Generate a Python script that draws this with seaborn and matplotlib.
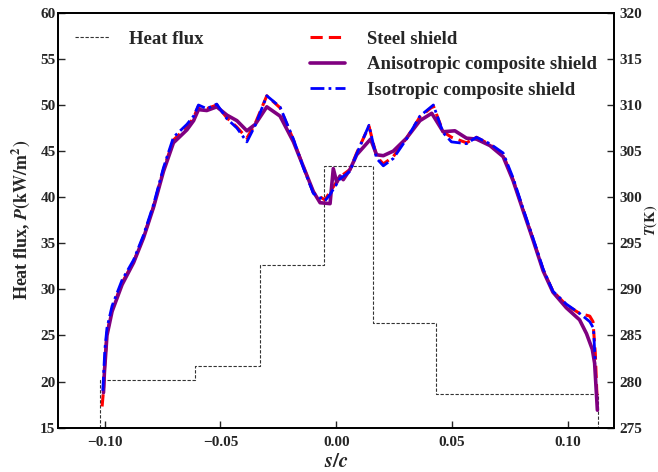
import numpy as np
import pandas as pd
import matplotlib
matplotlib.use("Agg")
import matplotlib.pyplot as plt
import seaborn as sns

# ---------------- data ----------------
flux_edges = [-0.1019, -0.1019, -0.0608, -0.0328, -0.0052, 0.0159, 0.0430, 0.1129, 0.1129]
flux_levels = [15.0, 20.2, 21.7, 32.6, 43.4, 26.4, 18.6, 18.6, 15.0]

s_steel = [-0.1011, -0.1005, -0.1001, -0.0990, -0.0968, -0.0925, -0.0875, -0.0832, -0.0789,
           -0.0746, -0.0703, -0.0645, -0.0616, -0.0595, -0.0559, -0.0516, -0.0472, -0.0429,
           -0.0386, -0.0350, -0.0300, -0.0243, -0.0185, -0.0142, -0.0099, -0.0049, -0.0027,
           0.0016, 0.0059, 0.0088, 0.0141, 0.0174, 0.0203, 0.0246, 0.0303, 0.0361, 0.0419,
           0.0461, 0.0497, 0.0562, 0.0605, 0.0663, 0.0720, 0.0763, 0.0807, 0.0850, 0.0893,
           0.0935, 0.0993, 0.1050, 0.1094, 0.1108, 0.1118, 0.1125]
T_steel = [277.3, 279.0, 281.3, 285.2, 287.8, 290.7, 293.0, 295.7, 299.0,
           303.0, 306.2, 307.6, 308.6, 309.9, 309.6, 310.0, 308.6, 307.6,
           306.4, 308.0, 311.0, 309.7, 306.2, 303.3, 300.5, 299.7, 300.6,
           302.2, 303.0, 304.8, 307.7, 304.4, 303.6, 304.4, 306.4, 308.7, 309.9,
           307.1, 306.5, 305.9, 306.5, 305.7, 304.6, 301.9, 298.6, 295.4, 292.1,
           289.8, 288.3, 287.4, 287.1, 286.5, 283.0, 278.5]

s_iso = [-0.1008, -0.1003, -0.0999, -0.0990, -0.0968, -0.0925, -0.0875, -0.0832, -0.0789,
         -0.0746, -0.0703, -0.0645, -0.0616, -0.0595, -0.0559, -0.0516, -0.0472, -0.0429,
         -0.0386, -0.0350, -0.0300, -0.0243, -0.0185, -0.0142, -0.0099, -0.0049, -0.0027,
         0.0016, 0.0059, 0.0088, 0.0141, 0.0174, 0.0203, 0.0246, 0.0303, 0.0361, 0.0419,
         0.0461, 0.0497, 0.0562, 0.0605, 0.0663, 0.0720, 0.0763, 0.0807, 0.0850, 0.0893,
         0.0935, 0.0993, 0.1050, 0.1094, 0.1110, 0.1118]
T_iso = [279.0, 281.5, 283.5, 285.8, 288.2, 291.0, 293.2, 295.9, 299.2,
         303.2, 306.5, 307.9, 308.8, 310.0, 309.6, 310.1, 308.5, 307.5,
         306.0, 307.8, 311.0, 309.8, 306.3, 303.2, 300.4, 299.6, 300.3,
         302.0, 302.8, 304.7, 307.8, 304.2, 303.4, 304.2, 306.3, 308.8, 310.0,
         307.0, 306.0, 305.8, 306.5, 305.8, 304.8, 302.1, 298.7, 295.5, 292.2,
         289.8, 288.4, 287.4, 286.5, 285.8, 282.0]

s_aniso = [-0.1005, -0.1001, -0.0990, -0.0968, -0.0925, -0.0875, -0.0832, -0.0789, -0.0746,
           -0.0703, -0.0645, -0.0616, -0.0595, -0.0559, -0.0516, -0.0472, -0.0429, -0.0386,
           -0.0350, -0.0300, -0.0243, -0.0185, -0.0142, -0.0099, -0.0070, -0.0027, -0.0013,
           0.0002, 0.0016, 0.0030, 0.0059, 0.0088, 0.0148, 0.0174, 0.0203, 0.0246, 0.0303,
           0.0361, 0.0412, 0.0461, 0.0512, 0.0562, 0.0605, 0.0663, 0.0720, 0.0763, 0.0807,
           0.0850, 0.0893, 0.0935, 0.0993, 0.1050, 0.1080, 0.1105, 0.1115, 0.1127]
T_aniso = [278.8, 281.0, 285.0, 287.6, 290.5, 292.9, 295.6, 298.9, 302.8,
           305.9, 307.3, 308.3, 309.5, 309.4, 309.8, 308.9, 308.3, 307.2,
           307.9, 309.8, 308.8, 306.0, 303.3, 300.6, 299.4, 299.3, 303.1,
           301.6, 302.3, 301.9, 303.0, 304.6, 306.3, 304.6, 304.5, 305.0, 306.4,
           308.3, 309.1, 307.1, 307.2, 306.4, 306.3, 305.6, 304.4, 301.8, 298.5,
           295.3, 292.0, 289.7, 288.0, 286.7, 285.2, 283.5, 282.0, 276.9]

# ---------------- style ----------------
sns.set_style("ticks")
plt.rcParams["font.family"] = ["Liberation Serif", "DejaVu Serif"]
plt.rcParams["mathtext.fontset"] = "stix"
plt.rcParams["font.weight"] = "bold"

fig = plt.figure(figsize=(6.58, 4.72), dpi=100)
ax = fig.add_axes([0.0886, 0.0939, 0.9336 - 0.0886, 0.9729 - 0.0939])
ax2 = ax.twinx()

flux_df = pd.DataFrame({"s": flux_edges, "P": flux_levels})
sns.lineplot(data=flux_df, x="s", y="P", ax=ax, estimator=None, sort=False,
             color="#333333", lw=0.8, linestyle=(0, (3, 1.5)), drawstyle="steps-post",
             label="Heat flux")

steel_df = pd.DataFrame({"s": s_steel, "T": T_steel})
aniso_df = pd.DataFrame({"s": s_aniso, "T": T_aniso})
iso_df = pd.DataFrame({"s": s_iso, "T": T_iso})

sns.lineplot(data=steel_df, x="s", y="T", ax=ax2, estimator=None, sort=False,
             color="#ff0000", lw=2.2, linestyle=(0, (4, 2)), label="Steel shield")
sns.lineplot(data=aniso_df, x="s", y="T", ax=ax2, estimator=None, sort=False,
             color="#800080", lw=2.6, linestyle="-", label="Anisotropic composite shield")
sns.lineplot(data=iso_df, x="s", y="T", ax=ax2, estimator=None, sort=False,
             color="#0000ff", lw=2.0, linestyle=(0, (5, 1.5, 1, 1.5)), label="Isotropic composite shield")

ax.set_xlim(-0.12, 0.12)
ax.set_ylim(15, 60)
ax2.set_ylim(275, 320)
ax.set_xticks([-0.10, -0.05, 0.00, 0.05, 0.10])
ax.set_xticklabels(["\u22120.10", "\u22120.05", "0.00", "0.05", "0.10"])
ax.set_yticks(np.arange(15, 61, 5))
ax2.set_yticks(np.arange(275, 321, 5))

for a in (ax, ax2):
    for sp in a.spines.values():
        sp.set_linewidth(1.3)
        sp.set_color("black")
ax.tick_params(axis="x", direction="in", length=5, width=1, labelsize=11, top=False, pad=6)
ax.tick_params(axis="y", direction="in", length=5, width=1, labelsize=11, pad=2)
ax2.tick_params(axis="y", direction="in", length=5, width=1, labelsize=11, pad=3.5)
for lab in ax.get_xticklabels() + ax.get_yticklabels() + ax2.get_yticklabels():
    lab.set_fontweight("bold")

ax.set_xlabel("$s/c$", fontsize=15, labelpad=3)
ax.set_ylabel(r"Heat flux, $P\mathrm{(kW/m^2)}$", fontsize=13, fontweight="bold", labelpad=6)
ax2.set_ylabel(r"$T\mathrm{(K)}$", fontsize=10.5)
ax2.yaxis.set_label_coords(1.0505, 0.5)

leg1 = ax.legend(loc="upper left", bbox_to_anchor=(0.0166, 0.975), frameon=False,
                 prop={"weight": "bold", "size": 13.5}, handlelength=1.8,
                 handletextpad=1.1, borderaxespad=0)
leg2 = ax2.legend(loc="upper left", bbox_to_anchor=(0.439, 0.975), frameon=False,
                  prop={"weight": "bold", "size": 13.5}, handlelength=1.85,
                  handletextpad=1.2, labelspacing=0.45, borderaxespad=0)

fig.savefig("out.png", dpi=100)
